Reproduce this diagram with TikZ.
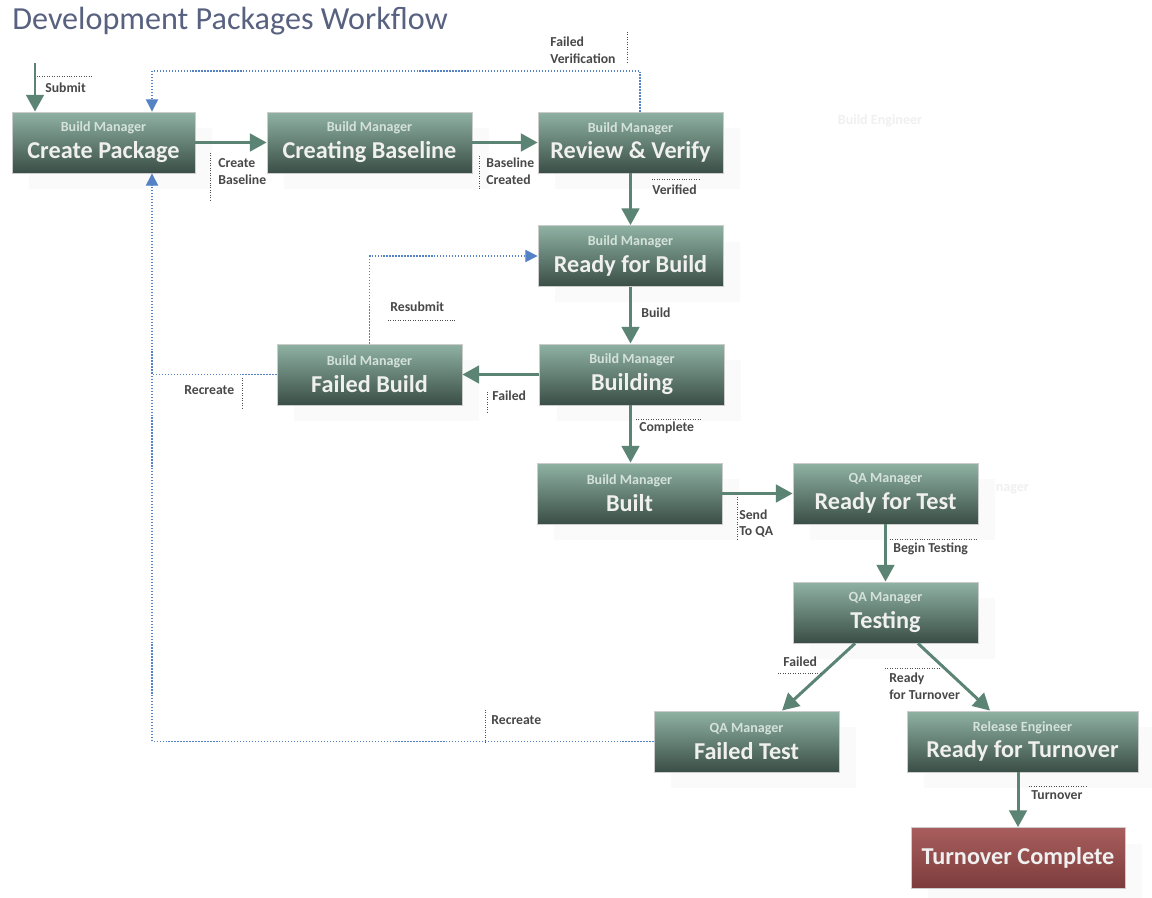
\documentclass[tikz,border=0pt]{standalone}
\usepackage{fontspec}
\setmainfont{Carlito}
\usetikzlibrary{arrows.meta,calc,shadows}

\definecolor{boxtop}{RGB}{143,178,163}
\definecolor{boxbot}{RGB}{58,78,70}
\definecolor{redtop}{RGB}{168,94,92}
\definecolor{redbot}{RGB}{124,60,60}
\definecolor{subcol}{RGB}{212,226,218}
\definecolor{flowcol}{RGB}{92,132,117}
\definecolor{backcol}{RGB}{84,130,196}
\definecolor{labelcol}{RGB}{72,72,72}
\definecolor{titlecol}{RGB}{88,98,128}

\newcommand{\stage}[2]{{\fontsize{8}{9}\selectfont\color{subcol}#1}\\{#2}}

\begin{document}
\begin{tikzpicture}[x=0.02cm,y=-0.02cm,
  stagebox/.style={rectangle, draw=white!80!black, line width=0.5pt,
    top color=boxtop, bottom color=boxbot, text=white!94!black,
    minimum width=3.7cm, minimum height=1.22cm, inner sep=0pt, align=center,
    font=\bfseries\fontsize{13.8}{15.3}\selectfont,
    drop shadow={shadow xshift=0.34cm, shadow yshift=-0.32cm, fill=black!2, opacity=1}},
  endbox/.style={stagebox, top color=redtop, bottom color=redbot},
  flow/.style={flowcol, line width=1.7pt, -{Triangle[length=9.5pt,width=10pt]}},
  back/.style={backcol, densely dotted, line width=0.7pt, -{Triangle[length=7pt,width=7pt]}},
  backline/.style={backcol, densely dotted, line width=0.7pt},
  lbl/.style={anchor=west, inner sep=0pt, align=left, text=labelcol,
    font=\bfseries\fontsize{7.8}{9.6}\selectfont},
  tick/.style={black!70, densely dotted, line width=0.4pt},
  ghost/.style={inner sep=0pt, text=black!6, font=\bfseries\fontsize{8}{9}\selectfont}]

\path[fill=white] (0,0) rectangle (1152,898);

% title
\node[anchor=west, inner sep=0pt, text=titlecol, font=\fontsize{18.3}{20}\selectfont] (title) at (12,21) {Development Packages Workflow};

% faint lane captions
\node[ghost] (lanebe) at (880,121) {Build Engineer};
\node[ghost] (laneqa) at (992,488) {QA Manager};

% stages
\node[stagebox, minimum width=3.66cm] (cp) at (103.5,142.5) {\stage{Build Manager}{Create Package}};
\node[stagebox, minimum width=4.1cm] (cb) at (369.5,142.5) {\stage{Build Manager}{Creating Baseline}};
\node[stagebox] (rv) at (630.5,142.5) {\stage{Build Manager}{Review \& Verify}};
\node[stagebox] (rb) at (630.5,256) {\stage{Build Manager}{Ready for Build}};
\node[stagebox] (bg) at (632,374.5) {\stage{Build Manager}{Building}};
\node[stagebox] (fb) at (369.5,374.5) {\stage{Build Manager}{Failed Build}};
\node[stagebox] (bt) at (629.5,493.5) {\stage{Build Manager}{Built}};
\node[stagebox] (rt) at (885.5,493.5) {\stage{QA Manager}{Ready for Test}};
\node[stagebox] (te) at (885.5,612.5) {\stage{QA Manager}{Testing}};
\node[stagebox] (ft) at (746.5,741.5) {\stage{QA Manager}{Failed Test}};
\node[stagebox, minimum width=4.62cm] (rr) at (1022.5,741.5) {\stage{Release Engineer}{Ready for Turnover}};
\node[endbox, minimum width=4.28cm] (tc) at (1018,858) {Turnover Complete};

% helper points
\coordinate (start) at (35,63);
\coordinate (leftrail) at (152,0);
\coordinate (toprail) at (0,71);
\coordinate (fvx) at (640,0);

% main flow
\draw[flow] (start) -- (cp.north -| start);
\draw[flow] (cp.east) -- (cb.west);
\draw[flow] (cb.east) -- (rv.west);
\draw[flow] (rv.south) -- (rb.north);
\draw[flow] (rb.south) -- (rb.south |- bg.north);
\draw[flow] (bg.west) -- (fb.east);
\draw[flow] (bg.south -| rb.south) -- (rb.south |- bt.north);
\draw[flow] (bt.east) -- (rt.west);
\draw[flow] (rt.south) -- (te.north);
\draw[flow] ($(te.south)+(-30.5,0)$) -- ($(ft.north)+(35.5,0)$);
\draw[flow] ($(te.south)+(32.5,0)$) -- ($(rr.north)+(-32.5,0)$);
\draw[flow] (tc.north |- rr.south) -- (tc.north);

% return paths
\draw[back] (rv.north -| fvx) |- (toprail -| leftrail) -- (cp.north -| leftrail);
\draw[back] (fb.west) -- (fb.west -| leftrail) -- (cp.south -| leftrail);
\draw[backline] (ft.west) -- (ft.west -| leftrail) -- (fb.west -| leftrail);
\draw[back] (fb.north) |- (rb.west);

% labels
\node[lbl] (lsubmit) at (45,88) {Submit};
\node[lbl] (lcreate) at (218,171.5) {Create\\Baseline};
\node[lbl] (lbase) at (486,171.5) {Baseline\\Created};
\node[lbl] (lverif) at (652,190) {Verified};
\node[lbl] (lfv) at (550,50.5) {Failed\\Verification};
\node[lbl] (lbuild) at (641,313) {Build};
\node[lbl] (lresub) at (390,307) {Resubmit};
\node[lbl] (lfailb) at (492,396) {Failed};
\node[lbl] (lrec) at (184,390) {Recreate};
\node[lbl] (lcompl) at (639,428) {Complete};
\node[lbl] (lsend) at (739,523.5) {Send\\To QA};
\node[lbl] (lbegin) at (893,549) {Begin Testing};
\node[lbl] (lfailt) at (783,662) {Failed};
\node[lbl] (lready) at (889,686.5) {Ready\\for Turnover};
\node[lbl] (lrec2) at (491,720) {Recreate};
\node[lbl] (lturn) at (1031,795) {Turnover};

% label ticks
\draw[tick] (37,76) -- (93,76);
\draw[tick] (210,153) -- (210,200);
\draw[tick] (479,156) -- (479,190);
\draw[tick] (652,179) -- (699,179);
\draw[tick] (627,32) -- (627,63);
\draw[tick] (388,320) -- (455,320);
\draw[tick] (487,392) -- (487,414);
\draw[tick] (242,378) -- (242,408);
\draw[tick] (636,419) -- (700,419);
\draw[tick] (737,497) -- (737,540);
\draw[tick] (890,539) -- (978,539);
\draw[tick] (778,673) -- (822,673);
\draw[tick] (885,668) -- (940,668);
\draw[tick] (1029,786) -- (1088,786);
\draw[tick] (485,710) -- (485,742);

\end{tikzpicture}
\end{document}
